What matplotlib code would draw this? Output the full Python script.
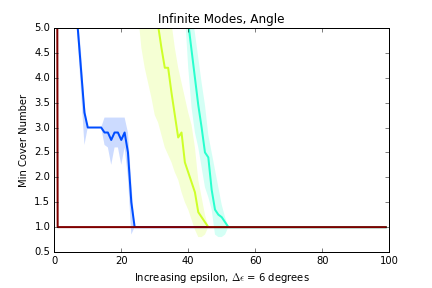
import matplotlib
matplotlib.use('Agg')
import matplotlib.pyplot as plt
from matplotlib.ticker import MultipleLocator, FormatStrFormatter

# values, x = 0..99; the tail of every series sits at 1.0
x_vals = list(range(100))

blue_mean = [20, 15, 12, 10, 8, 7, 5.9, 5.0, 4.15, 3.3, 3.0, 3.0, 3.0, 3.0, 3.0,
             2.9, 2.9, 2.75, 2.9, 2.9, 2.75, 2.9, 2.5, 1.5, 1.0] + [1.0] * 75
blue_low = [20, 15, 12, 10, 8, 7, 5.6, 4.75, 3.7, 2.65, 3.0, 3.0, 3.0, 3.0, 3.0,
            2.65, 2.6, 2.25, 2.6, 2.6, 2.25, 2.6, 2.0, 0.85, 1.0] + [1.0] * 75
blue_high = [20, 15, 12, 10, 8, 7, 6.2, 5.25, 4.5, 3.5, 3.0, 3.0, 3.0, 3.0, 3.0,
             3.2, 3.2, 3.2, 3.2, 3.2, 3.2, 3.2, 2.9, 1.9, 1.0] + [1.0] * 75

yellow_mean = [30] * 25 + [9, 8.5, 8, 7, 6.5, 5.6, 5.05, 4.6, 4.2, 4.2, 3.7, 3.25,
                           2.8, 2.9, 2.3, 2.1, 1.9, 1.7, 1.3, 1.2, 1.1, 1.0] + [1.0] * 53
yellow_low = [30] * 25 + [5.3, 4.6, 4.2, 3.9, 3.6, 3.25, 3.1, 2.85, 2.6, 2.45, 2.3, 2.1,
                          1.95, 1.7, 1.5, 1.35, 1.15, 0.95, 0.8, 0.8, 0.85, 1.0] + [1.0] * 53
yellow_high = [30] * 25 + [12, 11, 10, 9, 8, 7, 6.5, 6.0, 5.7, 5.4, 5.1, 4.6, 4.2, 3.9,
                           3.6, 3.3, 3.05, 2.6, 1.95, 1.6, 1.25, 1.0] + [1.0] * 53

cyan_mean = [30] * 39 + [5.6, 5.1, 4.55, 4.0, 3.45, 3.0, 2.5, 2.4, 1.75, 1.35, 1.25,
                         1.2, 1.1, 1.0] + [1.0] * 47
cyan_low = [30] * 39 + [5.3, 4.2, 3.4, 2.9, 2.6, 2.2, 1.8, 1.6, 1.35, 0.85, 0.8, 0.8,
                        0.85, 1.0] + [1.0] * 47
cyan_high = [30] * 39 + [6.3, 5.8, 5.3, 4.9, 4.4, 3.9, 3.45, 2.85, 2.5, 2.15, 1.8, 1.45,
                         1.2, 1.0] + [1.0] * 47

red_mean = [40] + [1.0] * 99
red_low = [40] + [0.98] * 99
red_high = [40] + [1.02] * 99

series = [
    (blue_mean, blue_low, blue_high, 0.2),
    (yellow_mean, yellow_low, yellow_high, 0.6),
    (cyan_mean, cyan_low, cyan_high, 0.4),
    (red_mean, red_low, red_high, 1.0),
]

plt.style.use('classic')
plt.rcParams['font.size'] = 10

fig = plt.figure(figsize=(6, 4), dpi=72)
ax = fig.add_axes([0.1257, 0.125, 0.775, 0.778])

for mean, low, high, frac in series:
    color = plt.cm.jet(frac)
    ax.fill_between(x_vals, low, high, color=color, alpha=0.2, linewidth=0)
    ax.plot(x_vals, mean, color=color, linewidth=2)

ax.set_xlim(0, 100)
ax.set_ylim(0.5, 5.0)
ax.xaxis.set_major_locator(MultipleLocator(20))
ax.yaxis.set_major_locator(MultipleLocator(0.5))
ax.yaxis.set_major_formatter(FormatStrFormatter('%.1f'))
ax.tick_params(labelsize=10)

ax.set_title("Infinite Modes, Angle", fontsize=12)
ax.set_xlabel(r"Increasing epsilon, $\Delta\epsilon$ = 6 degrees", fontsize=10)
ax.set_ylabel("Min Cover Number", fontsize=10)

fig.savefig("out.png", dpi=72, facecolor='white')
